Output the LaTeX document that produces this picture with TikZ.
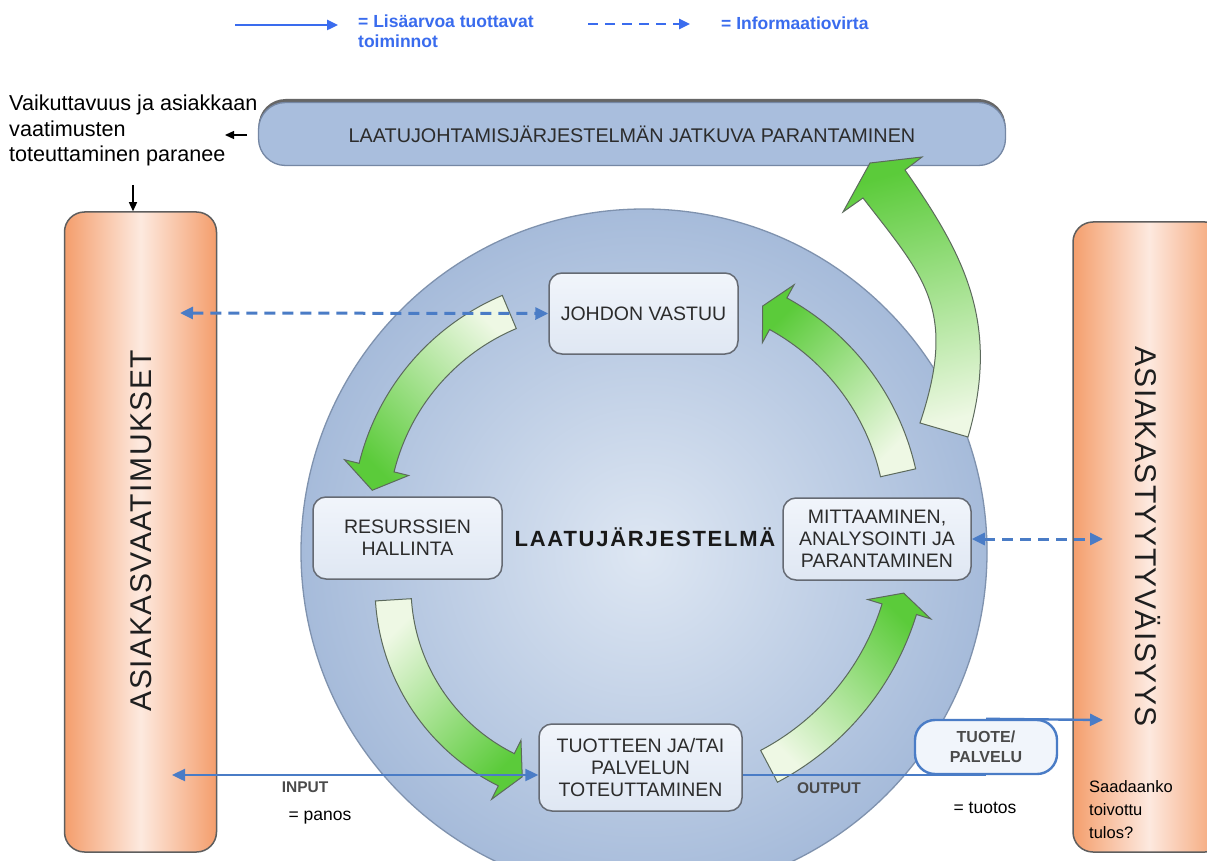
\documentclass[tikz,border=0pt]{standalone}
\usepackage{fontspec}
\setmainfont{Liberation Sans}
\newfontfamily\barfont[LetterSpace=5]{Liberation Sans}
\newfontfamily\sysfont[LetterSpace=8]{Liberation Sans}
\usetikzlibrary{arrows.meta,calc,shadows}
\definecolor{circin}{HTML}{DEE7F3}
\definecolor{circout}{HTML}{A6BBDA}
\definecolor{circline}{HTML}{7F92AE}
\definecolor{boxtop}{HTML}{F1F5FB}
\definecolor{boxbot}{HTML}{DFE7F3}
\definecolor{boxline}{HTML}{656A73}
\definecolor{orangeA}{HTML}{F49E6C}
\definecolor{orangeB}{HTML}{FDE9DF}
\definecolor{bardraw}{HTML}{5E5E5E}
\definecolor{barblue}{HTML}{A9BEDD}
\definecolor{barline}{HTML}{7587A4}
\definecolor{conn}{HTML}{4A7CC6}
\definecolor{legendblue}{HTML}{3A6CEE}
\definecolor{gpale}{HTML}{EEF8E4}
\definecolor{gbright}{HTML}{5BCB3A}
\definecolor{gline}{HTML}{5C6A5C}
\definecolor{txt}{HTML}{2C2C2C}
\definecolor{lblgray}{HTML}{4A4A4A}
\tikzset{fhead/.tip={Triangle[length=13pt,width=12pt]}}
\begin{document}
\begin{tikzpicture}[x=1pt,y=-1pt,
  proc/.style={draw=boxline, line width=1.5pt, rounded corners=13pt, top color=boxtop, bottom color=boxbot,
    align=center, text=txt, font=\fontsize{19.5}{22}\selectfont, inner sep=0pt},
  sidebar/.style={draw=bardraw, line width=1.5pt, rounded corners=20pt, left color=orangeA, right color=orangeA,
    middle color=orangeB, inner sep=0pt, minimum width=152pt},
  bartext/.style={font=\barfont\fontsize{30}{30}\selectfont, text=black!88, inner sep=0pt},
  flow/.style={draw=conn, line width=2.4pt},
  info/.style={draw=conn, line width=3pt, dash pattern=on 11pt off 7pt},
  garrow/.style={draw=gline, line width=1pt, top color=gbright, bottom color=gpale},
  legendtxt/.style={font=\bfseries\fontsize{17.5}{20}\selectfont, text=legendblue, inner sep=0pt, align=left},
  plain/.style={font=\fontsize{17.5}{21}\selectfont, inner sep=0pt, text=black},
  iolbl/.style={font=\bfseries\fontsize{15.5}{18}\selectfont, inner sep=0pt, text=lblgray},
  blackarrow/.style={draw=black, line width=1.3pt, -{Triangle[length=9pt,width=8pt]}}
]
\useasboundingbox (0,0) rectangle (1207,861);
\clip (0,0) rectangle (1207,861);
\fill[white] (0,0) rectangle (1207,861);

% legend
\coordinate (l1a) at (235,25);
\coordinate (l1b) at (338,25);
\draw[legendblue, line width=2.4pt, -{Triangle[length=11pt,width=10pt]}] (l1a) -- (l1b);
\node[legendtxt, anchor=north west] (lt1) at (358,15) {= Lisäarvoa tuottavat\\toiminnot};
\coordinate (l2a) at (588,24);
\coordinate (l2b) at (690,24);
\draw[legendblue, line width=2.6pt, dash pattern=on 10pt off 7pt, -{Triangle[length=11pt,width=10pt]}] (l2a) -- (l2b);
\node[legendtxt, anchor=west] (lt2) at (721,23) {= Informaatiovirta};

% top bar
\node[draw=barline, line width=1.3pt, fill=barblue, rounded corners=27pt, minimum width=747pt, minimum height=63pt,
  drop shadow={shadow xshift=0pt, shadow yshift=3.5pt, fill=black!80, opacity=0.75},
  font=\fontsize{19.8}{22}\selectfont, text=txt, inner sep=0pt] (topbar) at (632,134) {LAATUJOHTAMISJÄRJESTELMÄN JATKUVA PARANTAMINEN};

% left text
\node[font=\fontsize{21.6}{25.5}\selectfont, align=left, anchor=north west, inner sep=0pt] (vaik) at (9,95)
  {Vaikuttavuus ja asiakkaan\\vaatimusten\\toteuttaminen paranee};

% system circle
\node[circle, minimum size=686pt, inner sep=0pt, draw=circline, line width=1.3pt, inner color=circin, outer color=circout] (sys) at (644,552) {};

% side bars
\node[sidebar, minimum height=640pt] (req) at (140.5,532) {};
\node[bartext, rotate=90] (reqtxt) at (141,530.5) {ASIAKASVAATIMUKSET};
\node[sidebar, minimum height=630pt] (sat) at (1149,537) {};
\node[bartext, rotate=-90] (sattxt) at (1148,536.5) {ASIAKASTYYTYVÄISYYS};

% black arrows
\coordinate (ba1) at (247,135);
\coordinate (ba2) at (225,135);
\draw[blackarrow] (ba1) -- (ba2);
\coordinate (bd1) at (133,185);
\draw[blackarrow] (bd1) -- (bd1 |- req.north);

% green circular arrows
\foreach \gcx/\gcy/\grr/\gta/\gtb/\gtc/\gsa in {598/522/228/-112.9/-166.2/-172/135, 597/587/204/176.4/116.4/111.5/-135, 645/531/266/62.2/17.1/13.5/-45, 662/526/242/-12.7/-61.3/-65.4/45}{
  \pgfmathsetmacro\gro{\grr+18}
  \pgfmathsetmacro\gri{\grr-18}
  \pgfmathsetmacro\gho{\grr+33}
  \pgfmathsetmacro\ghi{\grr-33}
  \path[garrow, shading angle=\gsa] ($(\gcx,\gcy)+(\gta:\gro)$) arc[start angle=\gta, end angle=\gtb, radius=\gro]
    -- ($(\gcx,\gcy)+(\gtb:\gho)$) -- ($(\gcx,\gcy)+(\gtc:\grr)$) -- ($(\gcx,\gcy)+(\gtb:\ghi)$)
    -- ($(\gcx,\gcy)+(\gtb:\gri)$) arc[start angle=\gtb, end angle=\gta, radius=\gri] -- cycle;
}
% big arrow to top bar
\path[garrow, shading angle=15] (920,423) -- (968,437) .. controls (1001.6,321.8) and (962,252) .. (905,170)
  -- (922,157) -- (870,163) -- (843,212) -- (863,198) .. controls (924,277) and (958,309) .. (920,423) -- cycle;

% process boxes
\node[proc, minimum width=189pt, minimum height=81pt] (johdon) at (643.5,313.5) {JOHDON VASTUU};
\node[proc, minimum width=189pt, minimum height=82pt] (resurssit) at (407.5,538) {RESURSSIEN\\HALLINTA};
\node[proc, minimum width=188pt, minimum height=82pt] (mittaus) at (877,539) {MITTAAMINEN,\\ANALYSOINTI JA\\PARANTAMINEN};
\node[proc, minimum width=203pt, minimum height=87pt] (toteutus) at (640.5,767.5) {TUOTTEEN JA/TAI\\PALVELUN\\TOTEUTTAMINEN};
\node[font=\sysfont\bfseries\fontsize{22}{24}\selectfont, text=black!90, inner sep=0pt] (systxt) at (645,537) {LAATUJÄRJESTELMÄ};

% output box and connectors
\node[draw=conn, line width=2.4pt, rounded corners=20pt, fill=boxtop, minimum width=142pt, minimum height=54pt,
  inner sep=0pt, align=center, font=\bfseries\fontsize{16}{20}\selectfont, text=lblgray] (tuote) at (986,747) {TUOTE/\\PALVELU};
\draw[flow] (toteutus.east |- tuote.south) -- (tuote.south);
\coordinate (outR) at (1103,720);
\draw[flow, -{fhead}] (tuote.north) -- (outR);
\coordinate (inL) at (172,775);
\draw[flow, {fhead}-{fhead}] (inL) -- (inL -| toteutus.west);
\coordinate (dL) at (180,313);
\draw[info, {fhead}-{fhead}] (dL) -- (johdon.west);
\coordinate (dR) at (1103,539);
\draw[info, {fhead}-{fhead}] (mittaus.east) -- (dR);

% labels
\node[iolbl] (inlbl) at (305,787) {INPUT};
\node[iolbl] (outlbl) at (829,788) {OUTPUT};
\node[plain] (panos) at (320,818) {= panos};
\node[plain] (tuotos) at (985,808) {= tuotos};
\node[plain, font=\fontsize{16.5}{23}\selectfont, align=left, anchor=north west] (saadaanko) at (1089,780) {Saadaanko\\toivottu\\tulos?};
\end{tikzpicture}
\end{document}
